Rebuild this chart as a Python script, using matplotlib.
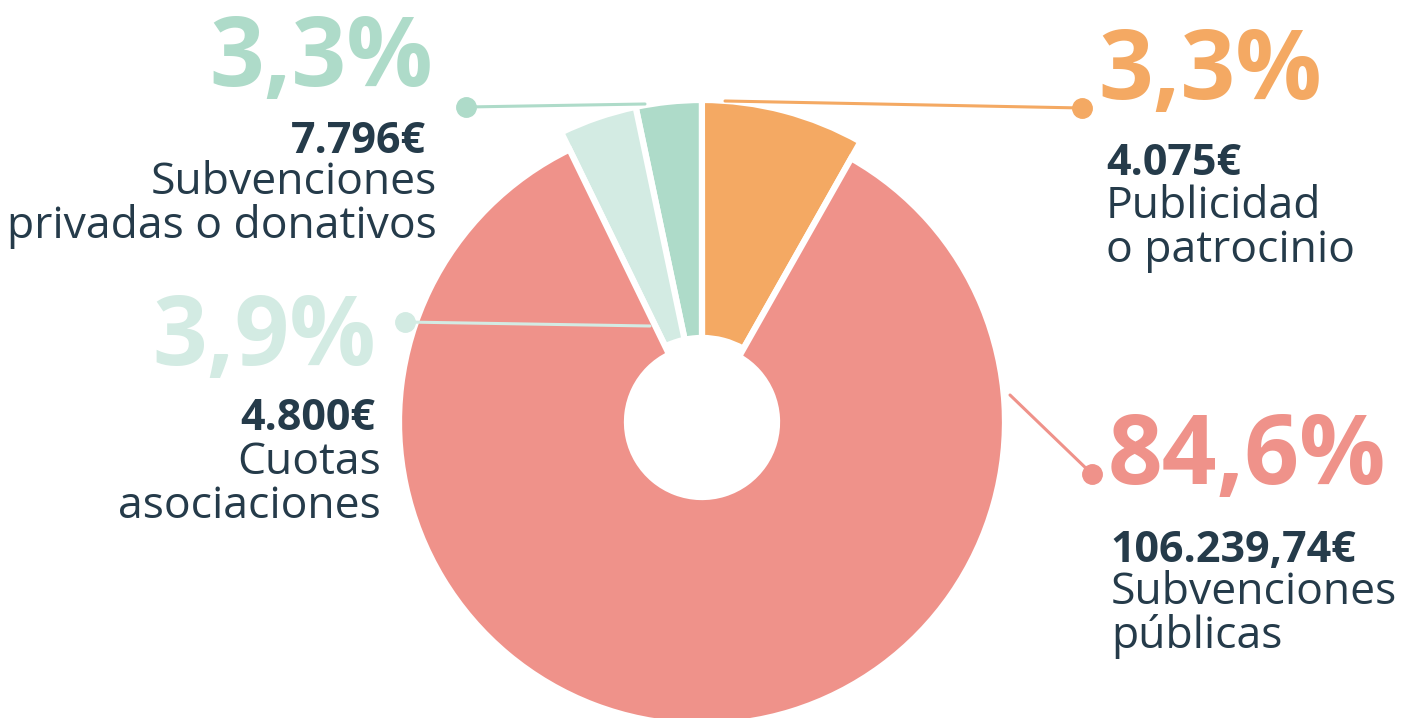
import numpy as np
import matplotlib.pyplot as plt

#--------- data ---------
labels = ['Publicidad\no patrocinio', 'Subvenciones\nprivadas o donativos',
          'Cuotas\nasociaciones', 'Subvenciones\npúblicas']
shares = [8.2, 3.3, 3.9, 84.6]          # wedge sizes as drawn
pct_text = ['3,3%', '3,3%', '3,9%', '84,6%']
amounts = ['4.075€', '7.796€', '4.800€', '106.239,74€']
colors = ['#F4A963', '#AEDBC9', '#D3EBE3', '#EF928A']
TXT = '#253B4A'

#--------- helpers ---------
H = 718
def Y(y):
    return H - y   # image pixel row -> data y

FONT = ['Open Sans', 'DejaVu Sans']

#--------- figure ---------
fig = plt.figure(figsize=(14.11, 7.18), dpi=100)
ax = fig.add_axes([0, 0, 1, 1])

cx, cy = 702, Y(422)
R = 303
wedges, _ = ax.pie(shares, colors=colors, startangle=60.5, counterclock=True,
                   radius=R, center=(cx, cy),
                   explode=[0.035, 0.014, 0.03, 0.0],
                   wedgeprops=dict(width=228, edgecolor='white', linewidth=4.5))
# small slices sit a bit bigger than the main ring
for w in wedges[:3]:
    w.set_radius(322)
    w.set_width(238)

ax.set_xlim(0, 1411)
ax.set_ylim(0, H)
ax.set_aspect('equal')
ax.axis('off')

#--------- leader lines ---------
def leader(x0, y0, x1, y1, c):
    ax.plot([x0, x1], [Y(y0), Y(y1)], color=c, lw=2.2, zorder=5, solid_capstyle='round')
    ax.plot([x1], [Y(y1)], 'o', color=c, ms=14, zorder=6)

leader(725, 101, 1082, 108, colors[0])
leader(645, 104, 466, 107, colors[1])
leader(650, 326, 405, 322, colors[2])
leader(1010, 395, 1092, 474, colors[3])

#--------- text ---------
big = dict(fontsize=69, fontweight='bold', family=FONT, va='baseline')
mid = dict(fontsize=31, fontweight='bold', family=FONT, va='baseline', color=TXT)
reg = dict(fontsize=32, family=FONT, va='baseline', color=TXT, linespacing=0.98)

# orange - right top
ax.text(1098, Y(99), pct_text[0], color=colors[0], ha='left', **big)
ax.text(1106, Y(175), amounts[0], ha='left', **mid)
ax.text(1106, Y(262), labels[0], ha='left', **reg)

# dark green - left top
ax.text(433, Y(86), pct_text[1], color=colors[1], ha='right', **big)
ax.text(426, Y(153), amounts[1], ha='right', **mid)
ax.text(437, Y(238), labels[1], ha='right', multialignment='right', **reg)

# light green - left middle
ax.text(376, Y(365), pct_text[2], color=colors[2], ha='right', **big)
ax.text(375, Y(430), amounts[2], ha='right', **mid)
ax.text(381, Y(518), labels[2], ha='right', multialignment='right', **reg)

# salmon - right bottom
ax.text(1108, Y(484), pct_text[3], color=colors[3], ha='left', **big)
ax.text(1110, Y(562), amounts[3], ha='left', **mid)
ax.text(1111, Y(648), labels[3], ha='left', **reg)

fig.savefig('out.png', dpi=100)
